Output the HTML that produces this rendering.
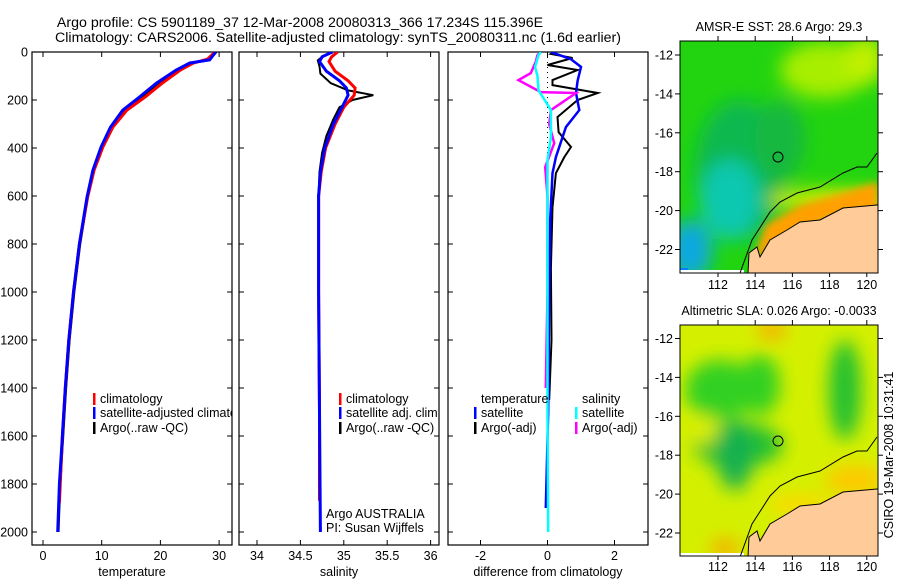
<!DOCTYPE html>
<html><head><meta charset="utf-8"><style>
html,body{margin:0;padding:0;background:#fff;width:900px;height:580px;overflow:hidden}
svg{display:block;font-family:"Liberation Sans",sans-serif}
text{font-size:12.5px;fill:#000}
.tt{font-size:14.2px}
</style></head><body>
<svg id="s" width="900" height="580" viewBox="0 0 900 580">
<defs>
<clipPath id="c1"><rect x="32" y="52" width="200" height="493"/></clipPath>
<clipPath id="c2"><rect x="239" y="52" width="200" height="493"/></clipPath>
<clipPath id="c3"><rect x="448" y="52" width="200" height="493"/></clipPath>
<clipPath id="m1"><rect x="680" y="41" width="198" height="232"/></clipPath>
<clipPath id="m2"><rect x="680" y="325" width="198" height="231"/></clipPath>
<filter id="bl" x="-50%" y="-50%" width="200%" height="200%"><feGaussianBlur stdDeviation="9"/></filter>
<filter id="bl2" x="-50%" y="-50%" width="200%" height="200%"><feGaussianBlur stdDeviation="4"/></filter>
</defs>
<text class="tt" x="300" y="27" text-anchor="middle">Argo profile: CS 5901189_37 12-Mar-2008 20080313_366 17.234S 115.396E</text>
<text class="tt" x="338" y="42" text-anchor="middle">Climatology: CARS2006. Satellite-adjusted climatology: synTS_20080311.nc (1.6d earlier)</text>
<g id="panels"></g>

<!-- Map 1 -->
<g>
<text x="779" y="31" text-anchor="middle">AMSR-E SST: 28.6 Argo: 29.3</text>
<g clip-path="url(#m1)" id="map1">
<rect x="680" y="41" width="198" height="232" fill="#22d40f"/>
<g filter="url(#bl)">
<ellipse cx="825" cy="70" rx="45" ry="28" fill="#a8ee00"/>
<ellipse cx="865" cy="60" rx="20" ry="25" fill="#c0f000"/>
<ellipse cx="740" cy="170" rx="45" ry="70" fill="#10b850"/>
<ellipse cx="730" cy="200" rx="30" ry="40" fill="#10c8b0"/>
<ellipse cx="690" cy="250" rx="22" ry="30" fill="#0aa8e0"/>
<ellipse cx="780" cy="140" rx="25" ry="40" fill="#14b840"/>
<ellipse cx="830" cy="200" rx="60" ry="10" fill="#e8f000"/>
</g>
<rect x="680" y="268" width="8" height="5" fill="#0080ff"/>
<polygon filter="url(#bl2)" points="755,255 765,225 800,205 845,192 878,182 878,215 845,215 810,228 775,245 760,260" fill="#ffa000"/>
<polygon points="765,250 790,230 820,220 845,212 878,204 878,218 845,220 800,232 770,248" fill="#c85a00" opacity="0.8"/>
<rect x="680" y="270" width="64" height="3" fill="#fff"/>
<polygon points="748,273 749,253 757,247 760,257 770,240 787,230 800,222 820,220 843,208 877,205 878,205 878,273" fill="#ffcc99" stroke="#000" stroke-width="1"/>
<polyline points="740,273 752,240 770,212 780,202 797,193 820,187 843,173 857,167 867,167 877,153" fill="none" stroke="#000" stroke-width="1"/>
<circle cx="778" cy="157" r="5" fill="none" stroke="#000" stroke-width="1"/>
</g>
<rect x="680" y="41" width="198" height="232" fill="none" stroke="#000"/>
<g id="map1ax"></g>
</g>

<!-- Map 2 -->
<g>
<text x="779" y="315" text-anchor="middle">Altimetric SLA: 0.026 Argo: -0.0033</text>
<g clip-path="url(#m2)">
<rect x="680" y="325" width="198" height="231" fill="#d4f000"/>
<g filter="url(#bl)">
<ellipse cx="720" cy="390" rx="35" ry="30" fill="#30d020"/>
<ellipse cx="760" cy="385" rx="20" ry="30" fill="#30d020"/>
<ellipse cx="738" cy="445" rx="45" ry="22" fill="#20c030"/>
<ellipse cx="735" cy="455" rx="18" ry="35" fill="#14b050"/>
<ellipse cx="845" cy="390" rx="16" ry="50" fill="#20c030"/>
<ellipse cx="705" cy="430" rx="12" ry="14" fill="#e0f000"/>
<ellipse cx="772" cy="330" rx="15" ry="8" fill="#ffa000"/>
<ellipse cx="725" cy="548" rx="15" ry="8" fill="#ffa000"/>
<ellipse cx="855" cy="480" rx="30" ry="15" fill="#ffc800"/>
<ellipse cx="800" cy="505" rx="30" ry="10" fill="#ffd800"/>
</g>
<rect x="680" y="553" width="64" height="3" fill="#fff"/>
<g transform="translate(0,284)">
<polygon points="748,273 749,253 757,247 760,257 770,240 787,230 800,222 820,220 843,208 877,205 878,205 878,273" fill="#ffcc99" stroke="#000" stroke-width="1"/>
<polyline points="740,273 752,240 770,212 780,202 797,193 820,187 843,173 857,167 867,167 877,153" fill="none" stroke="#000" stroke-width="1"/>
<circle cx="778" cy="157" r="5" fill="none" stroke="#000" stroke-width="1"/>
</g>
</g>
<rect x="680" y="325" width="198" height="231" fill="none" stroke="#000"/>
<g id="map2ax"></g>
</g>
<text transform="translate(893,455) rotate(-90)" text-anchor="middle">CSIRO 19-Mar-2008 10:31:41</text>
</svg>
<script>
// ---- data ----
const tempArgoDepth=[0,33,46,75,130,188,242,313,396,492,605,800,1000,1200,1400,1600,1800,2000];
const tempArgo=[29.5,28.3,25.3,23.0,19.6,16.8,13.9,11.7,10.0,8.6,7.6,6.3,5.3,4.5,3.9,3.4,2.9,2.6];
const tempClimDepth=[0,30,46,75,130,188,242,313,396,492,605,800,1000,1200,1400,1600,1880];
const tempClim=[29.3,28.0,25.6,23.4,20.3,17.4,14.3,11.9,10.2,8.7,7.6,6.2,5.2,4.4,3.8,3.3,2.8];
const tempSat=[29.4,28.4,25.0,22.7,19.3,16.4,13.6,11.5,9.9,8.5,7.5,6.2,5.2,4.4,3.8,3.3,2.8,2.5];
const salArgoDepth=[0,20,35,60,90,130,160,180,200,230,280,350,420,500,600,800,1000,1500,2000];
const salArgo=[34.86,34.75,34.70,34.72,34.73,34.85,35.05,35.34,35.10,34.95,34.88,34.80,34.75,34.72,34.71,34.71,34.71,34.72,34.73];
const salClimDepth=[0,20,40,80,120,150,180,230,300,400,500,600,1000,1500,1870];
const salClim=[34.93,34.86,34.83,34.90,35.05,35.13,35.12,35.00,34.90,34.79,34.74,34.71,34.71,34.72,34.72];
const salSatDepth=[0,20,40,80,120,150,180,230,300,400,500,600,1000,1500,2000];
const salSat=[34.87,34.75,34.72,34.80,34.95,35.03,35.05,34.98,34.88,34.78,34.73,34.71,34.71,34.72,34.73];
const dTArgoDepth=[0,8,25,54,75,117,138,171,200,271,334,396,438,505,647,900,1200,1450];
const dTArgo=[0.2,0.1,0.75,0.0,0.9,0.15,0.15,1.5,0.9,0.3,0.33,0.7,0.5,0.25,0.15,0.1,0.12,0.05];
const dTSatDepth=[0,30,62,120,171,242,313,438,505,700,1000,1500,1900];
const dTSat=[0.1,0.7,1.0,0.9,0.85,0.95,0.55,0.25,0.15,0.08,0.05,0.02,-0.05];
const dSArgoDepth=[0,13,40,88,117,167,171,242,300,380,480,600,1000,1400];
const dSArgo=[-0.2,-0.3,-0.35,-0.5,-0.87,-0.2,0.85,0.1,0.05,0.2,-0.07,0.0,0.0,-0.05];
const dSSatDepth=[0,13,62,100,159,242,355,450,700,1000,1500,2000];
const dSSat=[-0.2,-0.27,-0.37,-0.3,-0.27,0.1,0.1,0.0,0.0,0.0,0.0,0.02];
const depthTicks=[0,200,400,600,800,1000,1200,1400,1600,1800,2000];
const tempTicks=[0,10,20,30];
const salTicks=[34,34.5,35,35.5,36];
const diffTicks=[-2,0,2];
const latTicks=[-12,-14,-16,-18,-20,-22];
const lonTicks=[112,114,116,118,120];

const NS='http://www.w3.org/2000/svg';
const P=document.getElementById('panels');
function mk(tag,attrs,parent,txt){const e=document.createElementNS(NS,tag);for(const k in attrs)e.setAttribute(k,attrs[k]);if(txt!==undefined)e.textContent=txt;(parent||P).appendChild(e);return e;}
const yD=d=>52+d*0.24;
const panels=[
 {x0:32,sx:v=>43+v*5.87,ticks:tempTicks,label:'temperature',clip:'c1',name:'temperature-panel'},
 {x0:239,sx:v=>257+(v-34)*86.8,ticks:salTicks,label:'salinity',clip:'c2',name:'salinity-panel'},
 {x0:448,sx:v=>547.5+v*33.5,ticks:diffTicks,label:'difference from climatology',clip:'c3',name:'difference-panel'}];
panels.forEach((p,i)=>{
 const g=mk('g',{});
 
 
 const r=mk('rect',{x:p.x0,y:52,width:200,height:493,fill:'none',stroke:'#000','stroke-width':1.2},g);
 
 
 depthTicks.forEach(d=>{const y=yD(d);
  mk('line',{x1:p.x0,x2:p.x0+5,y1:y,y2:y,stroke:'#000'},g);
  mk('line',{x1:p.x0+200,x2:p.x0+195,y1:y,y2:y,stroke:'#000'},g);
  if(i==0){const t=mk('text',{x:28,y:y+4.5,'text-anchor':'end'},g,String(d));
   
   }
 });
 p.ticks.forEach(v=>{const x=p.sx(v);
  mk('line',{x1:x,x2:x,y1:545,y2:540,stroke:'#000'},g);
  mk('line',{x1:x,x2:x,y1:52,y2:57,stroke:'#000'},g);
  const t=mk('text',{x:x,y:560,'text-anchor':'middle'},g,String(v));
  
  
 });
 const al=mk('text',{x:p.x0+100,y:576,'text-anchor':'middle'},g,p.label);
 
 
 p.g=mk('g',{'clip-path':'url(#'+p.clip+')'},g);
});
function line(p,depths,vals,color,w,name){
 const pts=depths.map((d,k)=>p.sx(vals[k]).toFixed(1)+','+yD(d).toFixed(1)).join(' ');
 const l=mk('polyline',{points:pts,fill:'none',stroke:color,'stroke-width':w,'stroke-linejoin':'miter'},p.g);
 
 
}
line(panels[0],tempArgoDepth,tempArgo,'#000',2.5,'temp-argo-line');
line(panels[0],tempClimDepth,tempClim,'#f00',3,'temp-climatology-line');
line(panels[0],tempArgoDepth,tempSat,'#00f',3,'temp-satellite-line');
line(panels[1],salArgoDepth,salArgo,'#000',2,'sal-argo-line');
line(panels[1],salClimDepth,salClim,'#f00',3,'sal-climatology-line');
line(panels[1],salSatDepth,salSat,'#00f',3,'sal-satellite-line');
mk('line',{x1:panels[2].sx(0),x2:panels[2].sx(0),y1:yD(0),y2:yD(700),stroke:'#000','stroke-dasharray':'1,4'},panels[2].g);
line(panels[2],dTArgoDepth,dTArgo,'#000',2,'diff-temp-argo-line');
line(panels[2],dTSatDepth,dTSat,'#00f',2.5,'diff-temp-satellite-line');
line(panels[2],dSArgoDepth,dSArgo,'#f0f',2.5,'diff-sal-argo-line');
line(panels[2],dSSatDepth,dSSat,'#0ff',2.5,'diff-sal-satellite-line');

function legend(g,x,y,color,label){
 if(color) mk('rect',{x:x-7,y:y-10,width:2.5,height:12,fill:color},g);
 const t=mk('text',{x:x,y:y},g,label);
 
 
}
const L1=panels[0].g, L2=panels[1].g, L3=panels[2].g;
legend(L1,100,403,'#f00','climatology');legend(L1,100,417,'#00f','satellite-adjusted climatology');legend(L1,100,432,'#000','Argo(..raw -QC)');
legend(L2,346,403,'#f00','climatology');legend(L2,346,417,'#00f','satellite adj. clim.');legend(L2,346,432,'#000','Argo(..raw -QC)');
legend(L3,481,403,null,'temperature');legend(L3,481,417,'#00f','satellite');legend(L3,481,432,'#000','Argo(-adj)');
legend(L3,582,403,null,'salinity');legend(L3,582,417,'#0ff','satellite');legend(L3,582,432,'#f0f','Argo(-adj)');
const n1=mk('text',{x:326,y:518},L2,'Argo AUSTRALIA');


const n2=mk('text',{x:326,y:532},L2,'PI: Susan Wijffels');



function mapAxes(id,top,bottom,y12,labY){
 const g=document.getElementById(id);
 latTicks.forEach(v=>{const y=y12+(-12-v)*19.45;
  mk('line',{x1:878,x2:883,y1:y,y2:y,stroke:'#000'},g);
  mk('line',{x1:680,x2:675,y1:y,y2:y,stroke:'#000'},g);
  const t=mk('text',{x:673,y:y+4.5,'text-anchor':'end'},g,String(v));
  
  });
 lonTicks.forEach(v=>{const x=718+(v-112)*18.6;
  mk('line',{x1:x,x2:x,y1:top,y2:top-5,stroke:'#000'},g);
  mk('line',{x1:x,x2:x,y1:bottom,y2:bottom+4,stroke:'#000'},g);
  const t=mk('text',{x:x,y:labY,'text-anchor':'middle'},g,String(v));
  
  });
}
mapAxes('map1ax',41,273,55,289);
mapAxes('map2ax',325,556,338.5,571);
</script>
</body></html>
